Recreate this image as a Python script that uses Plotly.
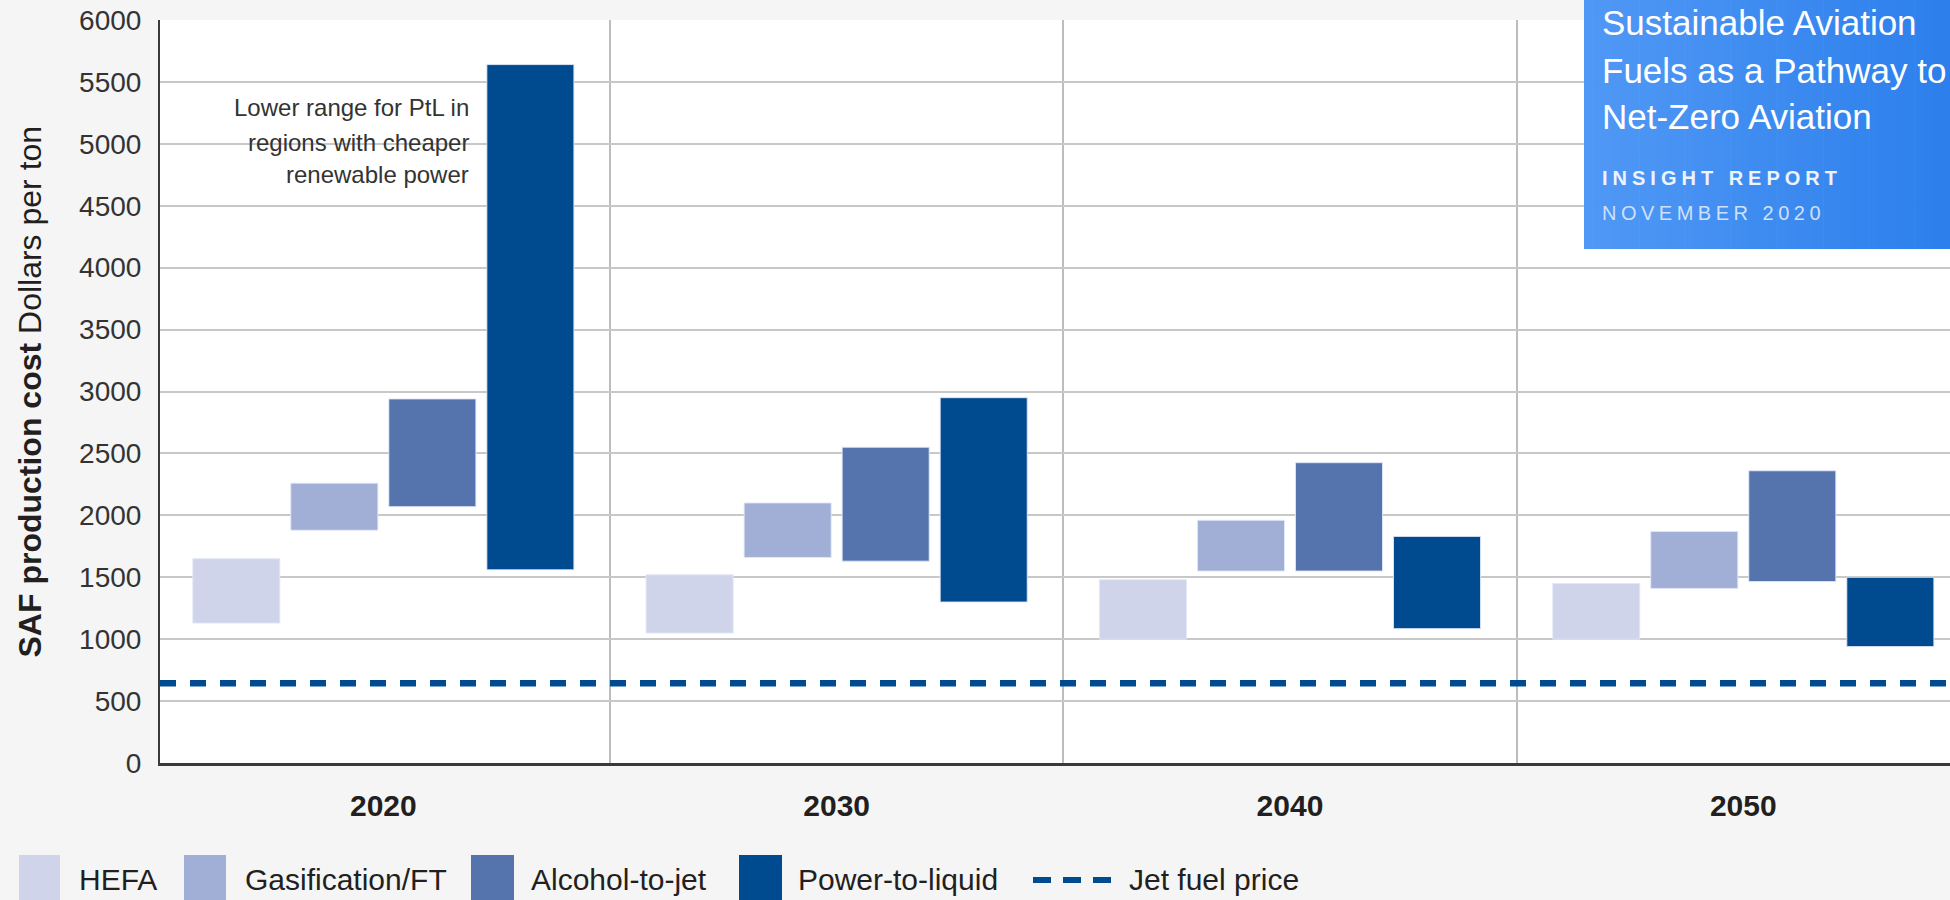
import plotly.graph_objects as go

# ---- data -----------------------------------------------------------------
years = ["2020", "2030", "2040", "2050"]
year_pos = [0, 1, 2, 3]

hefa_low = [1130, 1050, 1000, 1000]
hefa_high = [1650, 1520, 1480, 1450]

gasification_low = [1880, 1660, 1550, 1410]
gasification_high = [2260, 2100, 1960, 1870]

alcohol_low = [2070, 1630, 1550, 1465]
alcohol_high = [2940, 2550, 2425, 2360]

ptl_low = [1560, 1300, 1085, 940]
ptl_high = [5640, 2950, 1830, 1500]

jet_fuel_price = 645

series_names = ["HEFA", "Gasification/FT", "Alcohol-to-jet", "Power-to-liquid"]
series_colors = ["#CFD4EA", "#A1AED5", "#5574AE", "#004A8F"]
series_low = [hefa_low, gasification_low, alcohol_low, ptl_low]
series_high = [hefa_high, gasification_high, alcohol_high, ptl_high]

y_ticks = list(range(0, 6001, 500))

# ---- layout geometry (pixels) ---------------------------------------------
W, H = 1950, 900
PLOT_L, PLOT_R, PLOT_T, PLOT_B = 160, 1950, 20, 763
X_RANGE = [-0.4927, 3.456]
TEXT = "#231F20"
FONT = "Liberation Sans, Arial, Helvetica, sans-serif"


def px_x(px):
    return (px - PLOT_L) / (PLOT_R - PLOT_L)


def px_y(py):
    return (PLOT_B - py) / (PLOT_B - PLOT_T)


fig = go.Figure()

for name, color, lo, hi in zip(series_names, series_colors, series_low, series_high):
    fig.add_trace(go.Bar(
        name=name,
        x=year_pos,
        base=lo,
        y=[h - l for h, l in zip(hi, lo)],
        marker=dict(color=color, line=dict(color="rgba(225,232,247,0.9)", width=1)),
        showlegend=False,
        hoverinfo="skip",
    ))

# jet fuel reference price across the full width
fig.add_trace(go.Scatter(
    x=X_RANGE,
    y=[jet_fuel_price, jet_fuel_price],
    mode="lines",
    line=dict(color="#004A8F", width=6.5, dash="16px,14px"),
    showlegend=False,
    hoverinfo="skip",
))

shapes = []
annotations = []

# white backing behind the PtL note (hides the gridline under it)
shapes.append(dict(
    type="rect", xref="paper", yref="paper", layer="between",
    x0=px_x(233), x1=px_x(486), y0=px_y(195), y1=px_y(90),
    fillcolor="white", line=dict(width=0),
))

note_lines = ["Lower range for PtL in", "regions with cheaper", "renewable power"]
note_y = [108, 142, 175]
for line, yy in zip(note_lines, note_y):
    annotations.append(dict(
        text=line, xref="paper", yref="paper", x=px_x(471), y=px_y(yy),
        xanchor="right", yanchor="middle", showarrow=False, align="right",
        font=dict(family=FONT, size=24, color="#333333"),
    ))

# y axis title
annotations.append(dict(
    text="<b>SAF production cost</b> Dollars per ton",
    xref="paper", yref="paper", x=px_x(29), y=0.5,
    xanchor="center", yanchor="middle", textangle=-90, showarrow=False,
    font=dict(family=FONT, size=32, color=TEXT),
))

# legend row
legend_y = 879
swatch_x = [(19, 60), (184, 226), (471, 514), (739, 782)]
label_x = [77, 243, 529, 796]
for (sx0, sx1), lx, name, color in zip(swatch_x, label_x, series_names, series_colors):
    shapes.append(dict(
        type="rect", xref="paper", yref="paper", layer="above",
        x0=px_x(sx0), x1=px_x(sx1), y0=px_y(905), y1=px_y(855),
        fillcolor=color, line=dict(width=0),
    ))
    annotations.append(dict(
        text=name, xref="paper", yref="paper", x=px_x(lx), y=px_y(legend_y),
        xanchor="left", yanchor="middle", showarrow=False,
        font=dict(family=FONT, size=30, color=TEXT),
    ))
shapes.append(dict(
    type="line", xref="paper", yref="paper", layer="above",
    x0=px_x(1033), x1=px_x(1111), y0=px_y(880), y1=px_y(880),
    line=dict(color="#004A8F", width=6, dash="18px,12px"),
))
annotations.append(dict(
    text="Jet fuel price", xref="paper", yref="paper", x=px_x(1127), y=px_y(legend_y),
    xanchor="left", yanchor="middle", showarrow=False,
    font=dict(family=FONT, size=30, color=TEXT),
))

# report badge in the top right corner (horizontal blue gradient)
bx0, bx1, by0, by1 = 1584, 1952, 0, 249
n_strips = 40
c_left = (80, 152, 245)
c_right = (44, 127, 236)
for i in range(n_strips):
    t = i / (n_strips - 1)
    r = round(c_left[0] + (c_right[0] - c_left[0]) * t)
    g = round(c_left[1] + (c_right[1] - c_left[1]) * t)
    b = round(c_left[2] + (c_right[2] - c_left[2]) * t)
    xa = bx0 + (bx1 - bx0) * i / n_strips
    xb = bx0 + (bx1 - bx0) * (i + 1) / n_strips + 0.6
    shapes.append(dict(
        type="rect", xref="paper", yref="paper", layer="above",
        x0=px_x(xa), x1=px_x(xb), y0=px_y(by1), y1=px_y(by0 - 2),
        fillcolor=f"rgb({r},{g},{b})", line=dict(width=0),
    ))

badge_lines = ["Sustainable Aviation", "Fuels as a Pathway to", "Net-Zero Aviation"]
badge_y = [23, 70, 117]
for line, yy in zip(badge_lines, badge_y):
    annotations.append(dict(
        text=line, xref="paper", yref="paper", x=px_x(1600), y=px_y(yy),
        xanchor="left", yanchor="middle", showarrow=False,
        font=dict(family=FONT, size=35, color="white"),
    ))
annotations.append(dict(
    text='<span style="letter-spacing:5px">INSIGHT REPORT</span>',
    xref="paper", yref="paper", x=px_x(1600), y=px_y(178),
    xanchor="left", yanchor="middle", showarrow=False,
    font=dict(family=FONT, size=20, color="#EEF4FE", weight="bold"),
))
annotations.append(dict(
    text='<span style="letter-spacing:4.5px">NOVEMBER 2020</span>',
    xref="paper", yref="paper", x=px_x(1600), y=px_y(213),
    xanchor="left", yanchor="middle", showarrow=False,
    font=dict(family=FONT, size=20, color="#CFE0FA"),
))

fig.update_layout(
    width=W, height=H, autosize=False,
    margin=dict(l=PLOT_L, r=W - PLOT_R, t=PLOT_T, b=H - PLOT_B, pad=0),
    paper_bgcolor="#F5F5F5",
    plot_bgcolor="white",
    barmode="group",
    bargap=0.135,
    bargroupgap=0.112,
    showlegend=False,
    shapes=shapes,
    annotations=annotations,
    font=dict(family=FONT, color=TEXT),
)

fig.update_xaxes(
    range=X_RANGE,
    tickmode="array", tickvals=year_pos, ticktext=[f"<b>{y}</b>" for y in years],
    tickfont=dict(family=FONT, size=30, color=TEXT),
    ticks="", ticklabelstandoff=14,
    showgrid=False, zeroline=False,
    showline=True, linecolor="#3A3A3A", linewidth=2.5,
    minor=dict(tickmode="array", tickvals=[0.5, 1.5, 2.5], showgrid=True,
               gridcolor="#BDBDBD", gridwidth=2, ticks=""),
)

fig.update_yaxes(
    range=[0, 6000],
    tickmode="array", tickvals=y_ticks,
    tickfont=dict(family=FONT, size=28, color="#333333"),
    ticks="", ticklabelstandoff=11,
    showgrid=True, gridcolor="#C8C8C8", gridwidth=2,
    zeroline=False,
    showline=True, linecolor="#3A3A3A", linewidth=2,
)

fig.write_html("out.html")
